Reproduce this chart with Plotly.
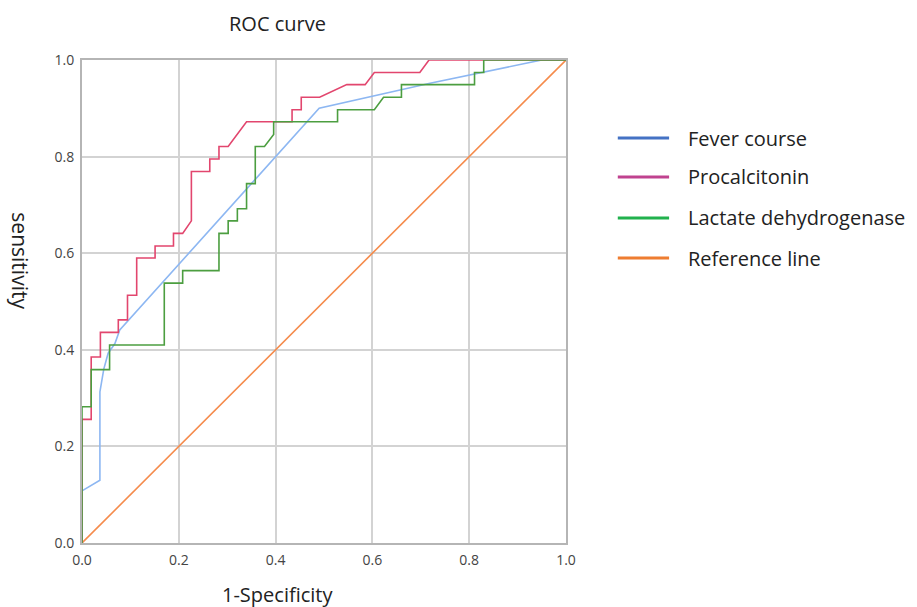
import plotly.graph_objects as go

# ---- data ----
fever_x = [0, 0, 0.037, 0.037, 0.045, 0.054, 0.068, 0.078, 0.49, 0.719, 0.95, 1.0]
fever_y = [0, 0.108, 0.130, 0.313, 0.360, 0.393, 0.413, 0.441, 0.900, 0.952, 1.0, 1.0]

pct_x = [0, 0, 0.019, 0.019, 0.038, 0.038, 0.075, 0.075, 0.094, 0.094, 0.113, 0.113,
         0.151, 0.151, 0.189, 0.189, 0.208, 0.226, 0.226, 0.264, 0.264, 0.283, 0.283,
         0.302, 0.340, 0.434, 0.434, 0.453, 0.453, 0.491, 0.547, 0.585, 0.604, 0.698,
         0.717, 1.0]
pct_y = [0, 0.256, 0.256, 0.385, 0.385, 0.436, 0.436, 0.462, 0.462, 0.513, 0.513, 0.590,
         0.590, 0.615, 0.615, 0.641, 0.641, 0.667, 0.769, 0.769, 0.795, 0.795, 0.821,
         0.821, 0.872, 0.872, 0.897, 0.897, 0.923, 0.923, 0.949, 0.949, 0.974, 0.974,
         1.0, 1.0]

ldh_x = [0, 0, 0.019, 0.019, 0.057, 0.057, 0.170, 0.170, 0.208, 0.208, 0.283, 0.283,
         0.302, 0.302, 0.321, 0.321, 0.340, 0.340, 0.358, 0.358, 0.377, 0.396, 0.396,
         0.528, 0.528, 0.604, 0.623, 0.660, 0.660, 0.811, 0.811, 0.830, 0.830, 1.0]
ldh_y = [0, 0.282, 0.282, 0.359, 0.359, 0.410, 0.410, 0.538, 0.538, 0.564, 0.564, 0.641,
         0.641, 0.667, 0.667, 0.692, 0.692, 0.744, 0.744, 0.821, 0.821, 0.846, 0.872,
         0.872, 0.897, 0.897, 0.923, 0.923, 0.949, 0.949, 0.974, 0.974, 1.0, 1.0]

ref_x = [0, 1]
ref_y = [0, 1]

series_names = ["Fever course", "Procalcitonin", "Lactate dehydrogenase", "Reference line"]
line_colors = ["#8db7f2", "#e2466e", "#4c9e40", "#f58b4c"]
legend_colors = ["#4472c4", "#c0428f", "#21b14d", "#ee7d31"]
tick_vals = [0, 0.2, 0.4, 0.6, 0.8, 1.0]
tick_text = ["0.0", "0.2", "0.4", "0.6", "0.8", "1.0"]

FONT = "Open Sans"

fig = go.Figure()
for xs, ys, name, col in zip([ref_x, fever_x, pct_x, ldh_x],
                             [ref_y, fever_y, pct_y, ldh_y],
                             [series_names[3], series_names[0], series_names[1], series_names[2]],
                             [line_colors[3], line_colors[0], line_colors[1], line_colors[2]]):
    fig.add_trace(go.Scatter(x=xs, y=ys, mode="lines", name=name,
                             line=dict(color=col, width=1.6), showlegend=False))

# legend drawn as shapes + text
leg_y = [0.8385, 0.7578, 0.6729, 0.590]
shapes = []
annotations = []
for name, col, yy in zip(series_names, legend_colors, leg_y):
    shapes.append(dict(type="line", xref="paper", yref="paper", x0=1.107, x1=1.213,
                       y0=yy, y1=yy, line=dict(color=col, width=3)))
    annotations.append(dict(xref="paper", yref="paper", x=1.248, y=yy, text=name,
                            showarrow=False, xanchor="left", yanchor="middle",
                            font=dict(family=FONT, size=20, color="#222")))

annotations.append(dict(xref="paper", yref="paper", x=-0.130, y=0.585, text="sensitivity",
                        textangle=90, showarrow=False, xanchor="center", yanchor="middle",
                        font=dict(family=FONT, size=21, color="#222")))
annotations.append(dict(xref="paper", yref="paper", x=0.403, y=-0.106, text="1-Specificity",
                        showarrow=False, xanchor="center", yanchor="middle",
                        font=dict(family=FONT, size=20, color="#222")))
annotations.append(dict(xref="paper", yref="paper", x=0.403, y=1.076, text="ROC curve",
                        showarrow=False, xanchor="center", yanchor="middle",
                        font=dict(family=FONT, size=20, color="#222")))

axis_common = dict(range=[0, 1], tickvals=tick_vals, ticktext=tick_text,
                   showgrid=True, gridcolor="#d3d3d3", gridwidth=2,
                   showline=True, linecolor="#b5b5b5", linewidth=2, mirror=True,
                   zeroline=False, ticks="outside", ticklen=3, tickcolor="#ffffff",
                   tickfont=dict(family=FONT, size=14, color="#444"))

fig.update_layout(
    width=917, height=607,
    margin=dict(l=82, r=351, t=60, b=64),
    paper_bgcolor="white", plot_bgcolor="white",
    xaxis=dict(**axis_common),
    yaxis=dict(**axis_common),
    shapes=shapes, annotations=annotations,
    showlegend=False,
)

# remove the default 8px page margin so the figure fills the window exactly
fig.write_html("out.html",
               config={"displayModeBar": False},
               post_script="document.body.style.margin='0';document.body.style.overflow='hidden';")
